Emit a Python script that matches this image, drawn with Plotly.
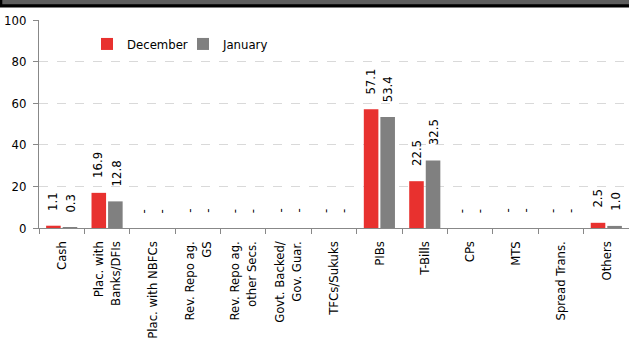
import plotly.graph_objects as go

categories = ["Cash", "Plac. with<br>Banks/DFIs", "Plac. with NBFCs", "Rev. Repo ag.<br>GS",
              "Rev. Repo ag.<br>other Secs.", "Govt. Backed/<br>Gov. Guar.", "TFCs/Sukuks",
              "PIBs", "T-Bills", "CPs", "MTS", "Spread Trans.", "Others"]
december = [1.1, 16.9, 0, 0, 0, 0, 0, 57.1, 22.5, 0, 0, 0, 2.5]
january = [0.3, 12.8, 0, 0, 0, 0, 0, 53.4, 32.5, 0, 0, 0, 1.0]
y_ticks = [0, 20, 40, 60, 80, 100]

RED = "#E8312F"
GRAY = "#808080"
AXIS = "#888888"
FONT = "DejaVu Sans Condensed, DejaVu Sans, sans-serif"
FS = 13

W, H = 629, 343
ML, MR, MT, MB = 39, 0, 20, 115
PW, PH = W - ML - MR, H - MT - MB

def lab(v):
    return "-" if v == 0 else f"{v:.1f}"

fig = go.Figure()
fig.add_bar(x=categories, y=december, name="December", marker=dict(color=RED, line=dict(width=0)))
fig.add_bar(x=categories, y=january, name="January", marker=dict(color=GRAY, line=dict(width=0)))

annotations = []
for series, shift in ((december, -9), (january, 9)):
    for c, v in zip(categories, series):
        annotations.append(dict(x=c, y=v, xref="x", yref="y", text=lab(v), showarrow=False,
                                textangle=-90, xanchor="center", yanchor="bottom",
                                xshift=shift, yshift=13,
                                font=dict(family=FONT, size=FS, color="#000000")))

def px_x(px):
    return (px - ML) / PW

def px_y(py):
    return (H - MB - py) / PH

shapes = [
    dict(type="rect", xref="paper", yref="paper", x0=px_x(-2), x1=px_x(W + 2), y0=px_y(7.5), y1=px_y(-3),
         fillcolor="#000000", line=dict(width=0), layer="above"),
    dict(type="rect", xref="paper", yref="paper", x0=px_x(2.3), x1=px_x(W + 2), y0=px_y(4.3), y1=px_y(-3),
         fillcolor="#5E5E5E", line=dict(width=0), layer="above"),
]

fig.update_layout(
    width=W, height=H,
    margin=dict(l=ML, r=MR, t=MT, b=MB, pad=0, autoexpand=False),
    paper_bgcolor="white", plot_bgcolor="white",
    font=dict(family=FONT, size=FS, color="#000000"),
    barmode="group", bargap=0.27, bargroupgap=0.12,
    showlegend=True,
    legend=dict(orientation="h", x=px_x(87), y=px_y(44), xanchor="left", yanchor="middle",
                bgcolor="rgba(0,0,0,0)", font=dict(family=FONT, size=FS),
                entrywidth=51, entrywidthmode="pixels", traceorder="normal"),
    annotations=annotations,
    shapes=shapes,
)
fig.update_xaxes(showline=True, linecolor=AXIS, linewidth=1, ticks="outside", tickson="boundaries",
                 ticklen=5, tickcolor=AXIS, tickangle=-90, showgrid=False, automargin=False,
                 tickfont=dict(family=FONT, size=FS), ticklabelstandoff=7)
fig.update_yaxes(range=[0, 100], tickvals=y_ticks, showline=True, linecolor=AXIS, linewidth=1,
                 ticks="outside", ticklen=5, tickcolor=AXIS, showgrid=True, gridcolor="#D9D9D9",
                 griddash="dash", zeroline=False, tickfont=dict(family=FONT, size=FS),
                 ticklabelstandoff=4, automargin=False)

fig.write_html("out.html", config={"displayModeBar": False},
               post_script="document.body.style.margin='0';document.body.style.overflow='hidden';")
